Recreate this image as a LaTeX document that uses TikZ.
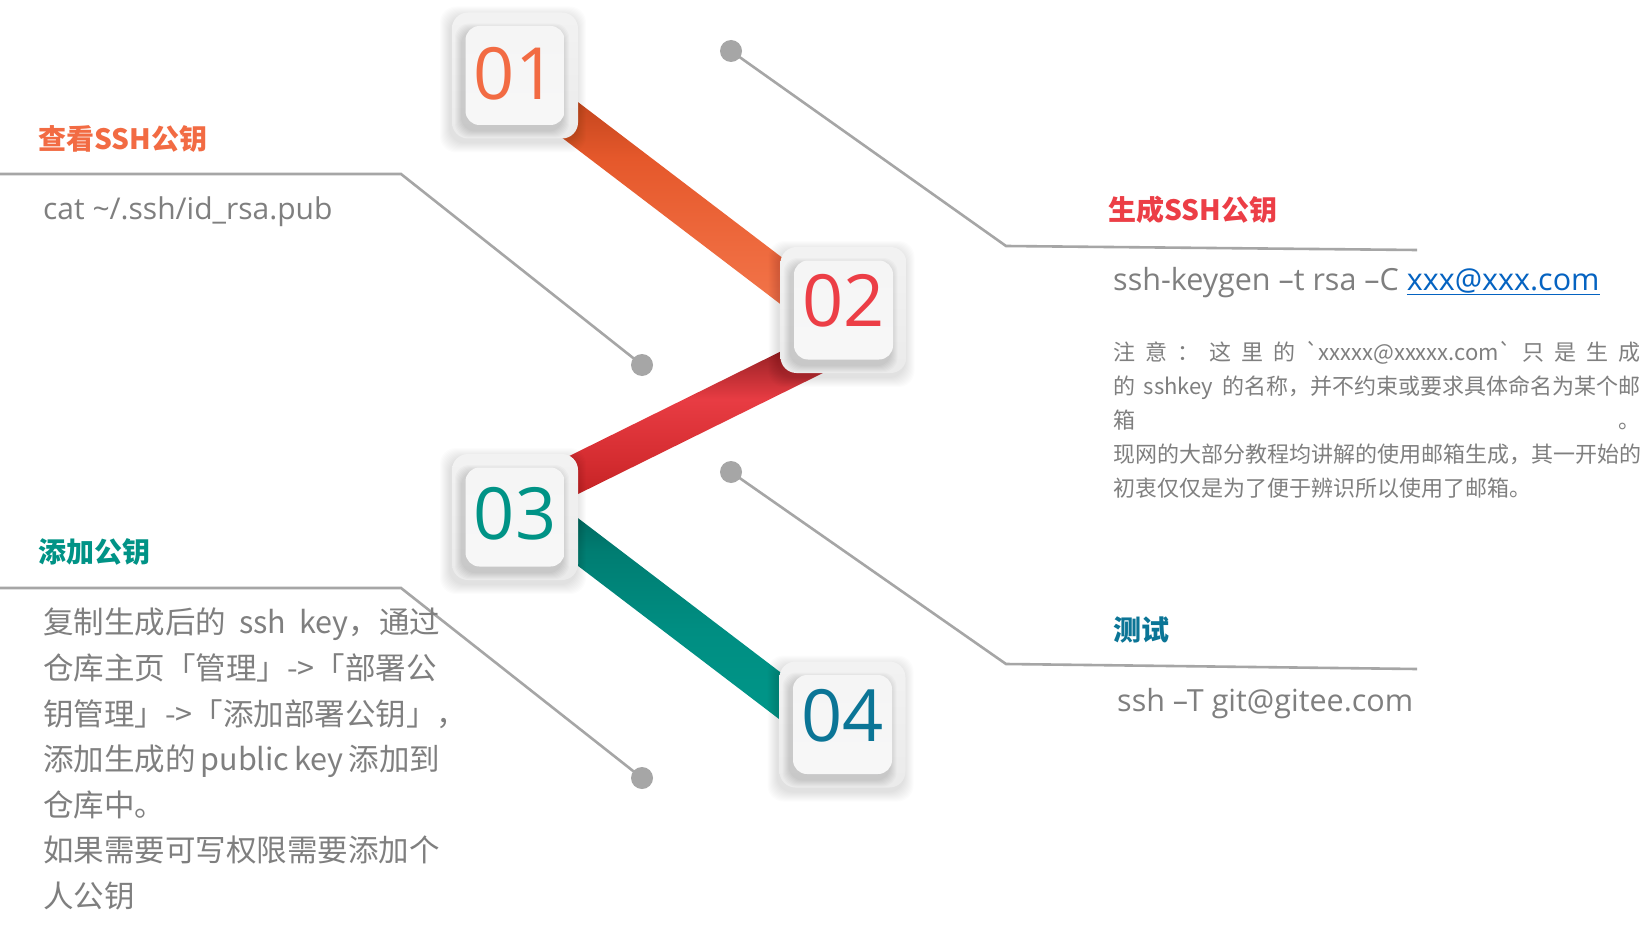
\documentclass[tikz,border=0pt]{standalone}
\usepackage{fontspec}
\setmainfont{Noto Sans CJK SC}[Ligatures=TeXOff]
\newfontfamily\latinfont{Open Sans}[Ligatures=TeXOff]
\usepackage{tikz}
\usetikzlibrary{positioning}
\usepackage{xcolor}

\definecolor{stepOrange}{HTML}{F26B43}
\definecolor{stepRed}{HTML}{EC3E46}
\definecolor{stepTeal}{HTML}{009386}
\definecolor{stepBlue}{HTML}{0B7596}
\definecolor{orDeep}{HTML}{8E2E10}
\definecolor{orEdge}{HTML}{C4461E}
\definecolor{orMid}{HTML}{E5582B}
\definecolor{orBody}{HTML}{EE6A3E}
\definecolor{orLight}{HTML}{F47A50}
\definecolor{redDeep}{HTML}{6E1818}
\definecolor{redEdge}{HTML}{9A2226}
\definecolor{redMid}{HTML}{E83C43}
\definecolor{redBody}{HTML}{D42C30}
\definecolor{redLow}{HTML}{B81C1C}
\definecolor{tealDeep}{HTML}{004A46}
\definecolor{tealEdge}{HTML}{00645C}
\definecolor{tealMid}{HTML}{007D72}
\definecolor{tealBody}{HTML}{008E82}
\definecolor{tealLight}{HTML}{009A8C}
\definecolor{bodyGray}{HTML}{7F7F7F}
\definecolor{wireGray}{HTML}{A6A6A6}
\definecolor{mailBlue}{HTML}{0563C1}

\pgfdeclareverticalshading{orRibbon}{100bp}{color(0bp)=(orLight); color(25bp)=(orLight); color(42bp)=(orBody); color(58bp)=(orMid); color(68bp)=(orEdge); color(75bp)=(orDeep); color(100bp)=(orDeep)}
\pgfdeclareverticalshading{redRibbon}{100bp}{color(0bp)=(redLow); color(25bp)=(redLow); color(40bp)=(redBody); color(56bp)=(redMid); color(68bp)=(redEdge); color(75bp)=(redDeep); color(100bp)=(redDeep)}
\pgfdeclareverticalshading{tealRibbon}{100bp}{color(0bp)=(tealLight); color(25bp)=(tealLight); color(48bp)=(tealBody); color(62bp)=(tealMid); color(70bp)=(tealEdge); color(75bp)=(tealDeep); color(100bp)=(tealDeep)}

\begin{document}
\begin{tikzpicture}[
	x=1pt, y=-1pt,
	wire/.style={draw=wireGray, line width=2.6pt},
	dotmark/.style={circle, fill=wireGray, minimum size=22pt, inner sep=0pt},
	tile/.style={rounded corners=16pt, minimum size=126pt, inner sep=0pt, top color=black!5, bottom color=black!8},
	face/.style={rounded corners=14pt, minimum size=99pt, inner sep=0pt, top color=black!4, bottom color=blue!2!black!3, font=\latinfont\fontsize{72}{72}\selectfont},
	headline/.style={inner sep=0pt, anchor=west, font=\bfseries\fontsize{28}{34}\selectfont},
	cmd/.style={inner sep=0pt, anchor=base west, text=bodyGray, font=\latinfont\fontsize{30.5}{38}\selectfont},
	body/.style={inner sep=0pt, anchor=north west, align=left, text=bodyGray}
]
	\useasboundingbox (0,0) rectangle (1652,931);
	\fill[white] (0,0) rectangle (1652,931);

	\coordinate (a1) at (0,174);
	\coordinate (k1) at (401,174);
	\node[dotmark] (d1) at (642,365) {};
	\draw[wire] (a1) -- (k1) -- (d1.center);

	\coordinate (a3) at (0,588);
	\coordinate (k3) at (401,588);
	\node[dotmark] (d3) at (642,778) {};
	\draw[wire] (a3) -- (k3) -- (d3.center);

	\node[dotmark] (d2) at (731,51) {};
	\coordinate (k2) at (1006,246);
	\coordinate (e2) at (1417,250);
	\draw[wire] (d2.center) -- (k2) -- (e2);

	\node[dotmark] (d4) at (731,472) {};
	\coordinate (k4) at (1006,664);
	\coordinate (e4) at (1417,669);
	\draw[wire] (d4.center) -- (k4) -- (e4);

	\begin{scope}[shift={(515,78)}, rotate=-37.3]
		\shade[shading=orRibbon] (0,-19) rectangle (412,19);
	\end{scope}
	\begin{scope}[shift={(515,504)}, rotate=26.3]
		\shade[shading=redRibbon] (0,-19) rectangle (366,19);
	\end{scope}
	\begin{scope}[shift={(515,494)}, rotate=-37.3]
		\shade[shading=tealRibbon] (0,-19) rectangle (412,19);
	\end{scope}

	\foreach \cx/\cy in {515/75.5, 843.5/310, 515/517, 842.5/724.5}
		\foreach \s in {1,...,10}
			\fill[black, opacity=0.01, rounded corners=16pt]
				(\cx-63-\s-2, \cy-63-\s+4) rectangle (\cx+63+\s-2, \cy+63+\s+4);

	\node[tile] (t1) at (515,75.5) {};
	\node[tile] (t2) at (843.5,310) {};
	\node[tile] (t3) at (515,517) {};
	\node[tile] (t4) at (842.5,724.5) {};

	\foreach \cx/\cy in {515/75.5, 843.5/310, 515/517, 842.5/724.5}
		\foreach \s in {1,...,7}
			\fill[black, opacity=0.018, rounded corners=14pt]
				(\cx-50-\s-3, \cy-50-\s+5) rectangle (\cx+50+\s-3, \cy+50+\s+5);

	\node[face, text=stepOrange] (n1) at (t1) {\raisebox{5pt}{01}};
	\node[face, text=stepRed] (n2) at (t2) {\raisebox{20pt}{02}};
	\node[face, text=stepTeal] (n3) at (t3) {\raisebox{8pt}{03}};
	\node[face, text=stepBlue] (n4) at (t4) {\raisebox{19pt}{04}};

	\node[headline, text=stepOrange] (h1) at (38,139) {查看SSH公钥};
	\node[cmd, font=\latinfont\fontsize{30}{38}\selectfont] (c1) at (43,219) {cat \textasciitilde/.ssh/id\_rsa.pub};

	\node[headline, text=stepRed] (h2) at (1108,210) {生成SSH公钥};
	\node[cmd] (c2) at (1113,290) {ssh-keygen –t rsa –C \textcolor{mailBlue}{\underline{xxx@xxx.com}}};
	\node[body, font=\fontsize{22}{34}\selectfont] (note) at (1113,341) {%
		\makebox[527pt][s]{注 意 ： 这 里 的 `xxxxx@xxxxx.com` 只 是 生 成}\\
		\makebox[527pt][s]{的 sshkey 的名称，并不约束或要求具体命名为某个邮}\\
		\makebox[527pt][s]{箱\hfill 。}\\
		现网的大部分教程均讲解的使用邮箱生成，其一开始的\\
		初衷仅仅是为了便于辨识所以使用了邮箱。};

	\node[headline, text=stepTeal] (h3) at (38,552) {添加公钥};
	\node[body, font=\fontsize{30.5}{45.6}\selectfont] (p3) at (43,608) {%
		\makebox[397pt][s]{复制生成后的 ssh key，通过}\\
		仓库主页「管理」->「部署公\\
		\makebox[407pt][s]{钥管理」->「添加部署公钥」\hfill ，}\\
		\makebox[397pt][s]{添加生成的 public key 添加到}\\
		仓库中。\\
		如果需要可写权限需要添加个\\
		人公钥};

	\node[headline, text=stepBlue] (h4) at (1113,630) {测试};
	\node[cmd] (c4) at (1117,711) {ssh –T git@gitee.com};
\end{tikzpicture}
\end{document}
